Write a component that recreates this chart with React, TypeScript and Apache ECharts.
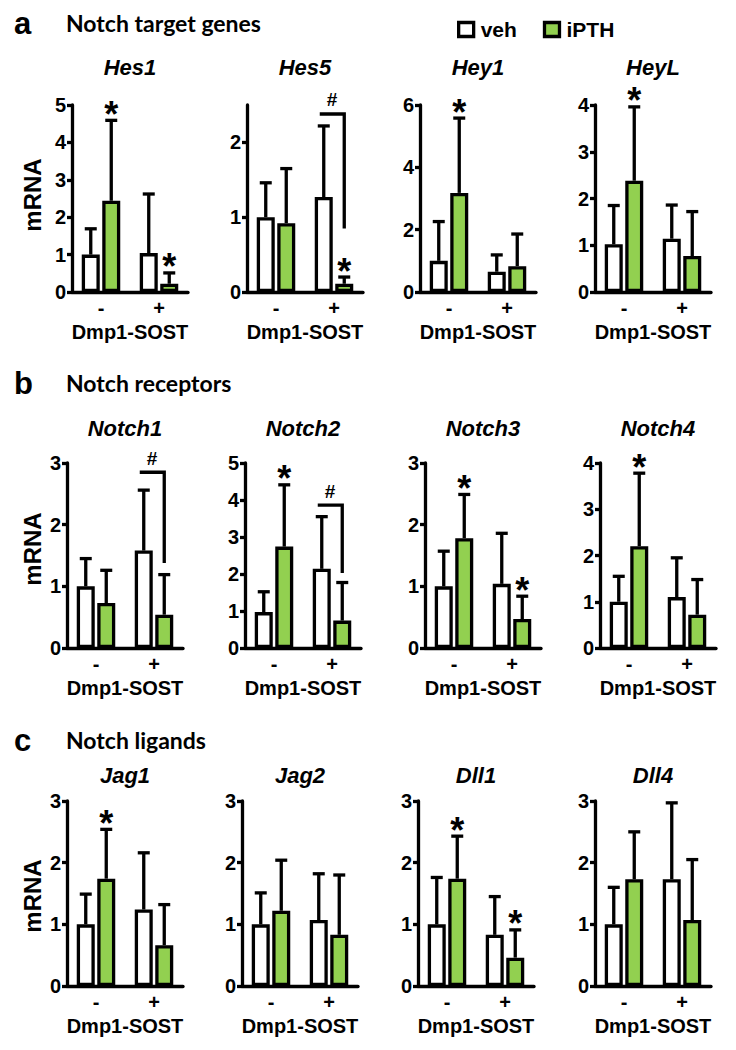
import React, { useEffect, useRef } from 'react';
import * as echarts from 'echarts';

const categories = ['-', '+'];
const genes = ['Hes1', 'Hes5', 'Hey1', 'HeyL', 'Notch1', 'Notch2', 'Notch3', 'Notch4', 'Jag1', 'Jag2', 'Dll1', 'Dll4'];
const yMax = [5, 2.5, 6, 4, 3, 5, 3, 4, 3, 3, 3, 3];
const yInterval = [1, 1, 2, 1, 1, 1, 1, 1, 1, 1, 1, 1];
const vehMean = [[1.0, 1.04], [1.0, 1.27], [1.0, 0.65], [1.02, 1.14], [1.0, 1.58], [0.97, 2.14], [1.0, 1.04], [1.0, 1.1], [1.0, 1.24], [1.0, 1.07], [1.0, 0.83], [1.0, 1.73]];
const vehUpper = [[1.69, 2.62], [1.46, 2.22], [2.26, 1.19], [1.85, 1.86], [1.45, 2.56], [1.52, 3.55], [1.57, 1.86], [1.55, 1.95], [1.49, 2.16], [1.51, 1.82], [1.76, 1.45], [1.6, 2.97]];
const pthMean = [[2.44, 0.22], [0.92, 0.11], [3.18, 0.83], [2.38, 0.77], [0.73, 0.54], [2.74, 0.74], [1.78, 0.47], [2.2, 0.72], [1.74, 0.66], [1.22, 0.83], [1.74, 0.46], [1.73, 1.07]];
const pthUpper = [[4.59, 0.51], [1.65, 0.2], [5.58, 1.86], [3.96, 1.72], [1.26, 1.19], [4.41, 1.77], [2.49, 0.84], [3.78, 1.48], [2.54, 1.32], [2.04, 1.8], [2.43, 0.91], [2.5, 2.05]];
const pthStar = [[1, 1], [0, 1], [1, 0], [1, 0], [0, 0], [1, 0], [1, 1], [1, 0], [1, 0], [0, 0], [1, 1], [0, 0]];
const hashBracket = [null, [2.38, 0.85], null, null, [2.85, 1.38], [3.86, 2.03], null, null, null, null, null, null];
const sectionLetters = ['a', 'b', 'c'];
const sectionTitles = ['Notch target genes', 'Notch receptors', 'Notch ligands'];
const groupLabel = 'Dmp1-SOST';
const yName = 'mRNA';
const legendNames = ['veh', 'iPTH'];

const GREEN = '#92D050';
const ARIAL = 'Liberation Sans, Arial, sans-serif';
const HEAD = 'Lato, Open Sans, sans-serif';
const LW = 3.3;

const rowTop = [105, 463, 801];
const rowHeight = [187, 185, 185];
const colLeft = [[72, 247, 420, 595], [67, 245, 425, 600], [67, 242, 418, 595]];
const gridWidth = 116;
const geneTitleY = [67, 428, 775];
const sectionY = [23, 383, 740];
const mrnaY = [195, 549, 896];
const BW = 18;
const GAP = 2.5;
const OFF = (BW + GAP) / 2;

function errRender(off: number) {
  return (params: any, api: any) => {
    const c = api.value(0);
    const up = api.value(1);
    const m = api.value(2);
    const p0 = api.coord([c, m]);
    const p1 = api.coord([c, up]);
    const x = p0[0] + off;
    return {
      type: 'group',
      children: [
        { type: 'line', shape: { x1: x, y1: p0[1], x2: x, y2: p1[1] }, style: { stroke: '#000', lineWidth: LW } },
        { type: 'line', shape: { x1: x - 6, y1: p1[1], x2: x + 6, y2: p1[1] }, style: { stroke: '#000', lineWidth: LW } },
      ],
    };
  };
}

function starRender(params: any, api: any) {
  const c = api.value(0);
  const up = api.value(1);
  const p = api.coord([c, up]);
  return {
    type: 'text',
    x: p[0] + OFF,
    y: p[1] - 6,
    style: { text: '*', fontSize: 36, fontWeight: 'bold', fontFamily: ARIAL, fill: '#000', align: 'center', verticalAlign: 'middle' },
  };
}

function bracketRender(params: any, api: any) {
  const c = api.value(0);
  const top = api.value(1);
  const bot = api.value(2);
  const pt = api.coord([c, top]);
  const pb = api.coord([c, bot]);
  const xw = pt[0] - OFF - 4;
  const xg = pt[0] + OFF;
  return {
    type: 'group',
    children: [
      { type: 'polyline', shape: { points: [[xw, pt[1]], [xg, pt[1]], [xg, pb[1]]] }, style: { stroke: '#000', lineWidth: LW, fill: 'none' } },
      { type: 'text', x: (xw + xg) / 2, y: pt[1] - 14, style: { text: '#', fontSize: 19, fontWeight: 'bold', fontFamily: ARIAL, fill: '#000', align: 'center', verticalAlign: 'middle' } },
    ],
  };
}

export default function App() {
  const ref = useRef<HTMLDivElement>(null);
  useEffect(() => {
    if (!ref.current) return;
    const chart = echarts.init(ref.current, undefined, { renderer: 'svg' });
    const grid: any[] = [];
    const xAxis: any[] = [];
    const yAxis: any[] = [];
    const series: any[] = [];
    const graphic: any[] = [];

    genes.forEach((g, i) => {
      const row = Math.floor(i / 4);
      const col = i % 4;
      const left = colLeft[row][col];
      grid.push({ left, top: rowTop[row], width: gridWidth, height: rowHeight[row], containLabel: false });
      xAxis.push({
        gridIndex: i,
        type: 'category',
        data: categories,
        axisLine: { lineStyle: { color: '#000', width: LW } },
        axisTick: { show: false },
        axisLabel: { color: '#000', fontSize: 20, fontWeight: 'bold', fontFamily: ARIAL, margin: 6 },
        name: groupLabel,
        nameLocation: 'middle',
        nameGap: 30,
        nameTextStyle: { color: '#000', fontSize: 20, fontWeight: 'bold', fontFamily: ARIAL },
      });
      const ticks: number[] = [];
      for (let v = 0; v <= yMax[i] + 1e-9; v += yInterval[i]) ticks.push(v);
      yAxis.push({
        gridIndex: i,
        type: 'value',
        min: 0,
        max: yMax[i],
        interval: yInterval[i],
        splitLine: { show: false },
        axisLine: { show: true, lineStyle: { color: '#000', width: LW } },
        axisTick: { show: true, length: 5, lineStyle: { color: '#000', width: LW }, customValues: ticks },
        axisLabel: { color: '#000', fontSize: 20, fontWeight: 'bold', fontFamily: ARIAL, margin: 6, customValues: ticks },
      });
      series.push({
        type: 'bar', name: legendNames[0], xAxisIndex: i, yAxisIndex: i,
        data: vehMean[i], barWidth: BW, barGap: (GAP / BW * 100).toFixed(1) + '%',
        itemStyle: { color: '#fff', borderColor: '#000', borderWidth: LW },
      });
      series.push({
        type: 'bar', name: legendNames[1], xAxisIndex: i, yAxisIndex: i,
        data: pthMean[i], barWidth: BW,
        itemStyle: { color: GREEN, borderColor: '#000', borderWidth: LW },
      });
      series.push({
        type: 'custom', xAxisIndex: i, yAxisIndex: i, renderItem: errRender(-OFF),
        data: [0, 1].map((c) => [c, vehUpper[i][c], vehMean[i][c]]), encode: { x: 0, y: 1 }, z: 3,
      });
      series.push({
        type: 'custom', xAxisIndex: i, yAxisIndex: i, renderItem: errRender(OFF),
        data: [0, 1].map((c) => [c, pthUpper[i][c], pthMean[i][c]]), encode: { x: 0, y: 1 }, z: 3,
      });
      const stars = [0, 1].filter((c) => pthStar[i][c]).map((c) => [c, pthUpper[i][c]]);
      if (stars.length) {
        series.push({ type: 'custom', xAxisIndex: i, yAxisIndex: i, renderItem: starRender, data: stars, encode: { x: 0, y: 1 }, z: 4, clip: false });
      }
      const hb = hashBracket[i];
      if (hb) {
        series.push({ type: 'custom', xAxisIndex: i, yAxisIndex: i, renderItem: bracketRender, data: [[1, hb[0], hb[1]]], encode: { x: 0, y: 1 }, z: 4, clip: false });
      }
      graphic.push({
        type: 'text', x: left + gridWidth / 2, y: geneTitleY[row],
        style: { text: g, fontSize: 22, fontWeight: 'bold', fontStyle: 'italic', fontFamily: ARIAL, fill: '#000', align: 'center', verticalAlign: 'middle' },
      });
    });

    sectionLetters.forEach((s, r) => {
      graphic.push({ type: 'text', x: 14, y: sectionY[r], style: { text: s, fontSize: 31, fontWeight: 'bold', fontFamily: ARIAL, fill: '#000', align: 'left', verticalAlign: 'middle' } });
      graphic.push({ type: 'text', x: 66, y: sectionY[r], style: { text: sectionTitles[r], fontSize: 23, fontWeight: 'bold', fontFamily: HEAD, fill: '#000', align: 'left', verticalAlign: 'middle' } });
      graphic.push({ type: 'text', x: 32, y: mrnaY[r], rotation: Math.PI / 2, style: { text: yName, fontSize: 24, fontWeight: 'bold', fontFamily: ARIAL, fill: '#000', align: 'center', verticalAlign: 'middle' } });
    });

    chart.setOption({
      animation: false,
      backgroundColor: '#fff',
      grid, xAxis, yAxis, series, graphic,
      legend: {
        left: 452, top: 14,
        itemWidth: 15, itemHeight: 14, itemGap: 26,
        icon: 'rect',
        data: [
          { name: legendNames[0], itemStyle: { color: '#fff', borderColor: '#000', borderWidth: LW } },
          { name: legendNames[1], itemStyle: { color: GREEN, borderColor: '#000', borderWidth: LW } },
        ],
        textStyle: { color: '#000', fontSize: 21, fontWeight: 'bold', fontFamily: ARIAL, padding: [0, 0, 0, 2] },
        selectedMode: false,
      },
    });
    return () => chart.dispose();
  }, []);
  return <div ref={ref} style={{ position: 'absolute', left: 0, top: 0, width: 736, height: 1050 }} />;
}
